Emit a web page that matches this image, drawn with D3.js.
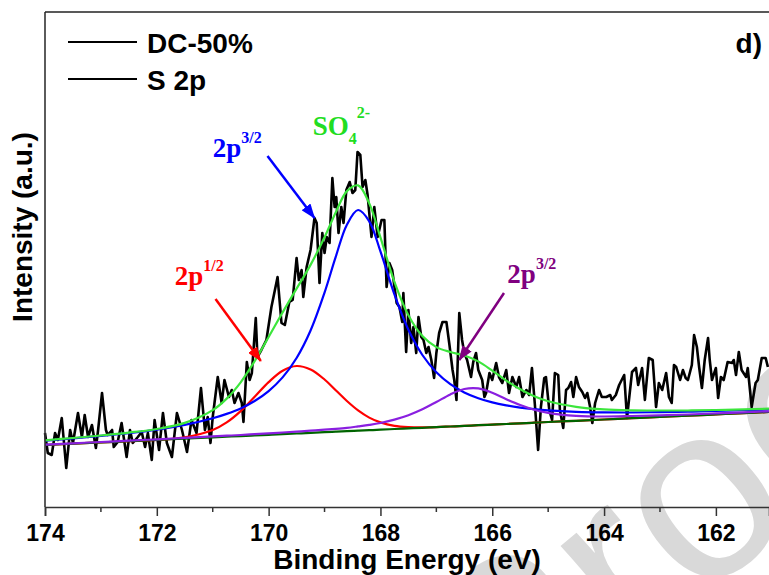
<!DOCTYPE html>
<html>
<head>
<meta charset="utf-8">
<script src="https://cdn.jsdelivr.net/npm/d3@7"></script>
<style>
  body { margin: 0; background: #fff; }
  svg text { font-family: "Liberation Sans", Arial, sans-serif; font-weight: bold; }
</style>
</head>
<body>
<svg width="769" height="575"></svg>
<script>
// S 2p raw spectrum (binding energy in eV, intensity in a.u.)
const rawEnergy = [
  174.00,173.95,173.88,173.82,173.77,173.70,173.62,173.55,173.50,173.41,
  173.34,173.29,173.23,173.16,173.09,173.05,172.98,172.91,172.88,172.80,
  172.77,172.70,172.63,172.54,172.48,172.43,172.34,172.27,172.21,172.16,
  172.09,172.04,171.96,171.89,171.82,171.73,171.64,171.55,171.46,171.38,
  171.29,171.21,171.14,171.09,171.04,171.00,170.91,170.84,170.79,170.71,
  170.66,170.61,170.54,170.48,170.45,170.39,170.34,170.30,170.23,170.20,
  170.13,170.04,169.95,169.84,169.77,169.71,169.63,
  169.57,169.50,169.46,169.41,169.38,169.32,169.25,169.18,169.14,169.09,
  169.04,169.00,168.96,168.91,168.86,168.82,168.79,168.75,168.70,168.66,
  168.61,168.55,168.50,168.45,168.41,168.36,168.32,168.27,168.23,168.16,
  168.11,168.05,167.98,167.93,167.89,167.84,167.79,167.71,167.66,167.61,
  167.59,167.54,167.50,167.45,167.41,167.36,167.32,167.27,167.23,167.18,
  167.14,167.09,167.04,167.00,166.95,166.89,166.82,166.77,166.71,166.68,
  166.64,166.59,166.54,166.50,166.45,166.38,166.34,166.29,166.25,166.18,
  166.14,166.11,166.05,166.00,165.93,165.88,165.82,165.75,165.70,165.64,
  165.57,165.52,165.46,
  165.39,165.34,165.29,165.23,165.18,165.13,165.07,165.04,164.98,164.93,
  164.88,164.82,164.79,164.73,164.68,164.64,164.59,164.55,164.50,164.45,
  164.39,164.34,164.30,164.25,164.21,164.16,164.09,164.04,163.96,163.89,
  163.86,163.79,163.73,163.64,163.59,163.50,163.43,163.39,163.32,163.27,
  163.20,163.13,163.07,163.02,162.96,162.89,162.84,162.79,162.75,162.71,
  162.64,162.59,162.54,162.50,162.43,162.39,162.34,162.30,162.25,162.20,
  162.14,162.11,162.07,162.00,161.96,161.91,161.86,161.79,161.71,161.68,
  161.64,161.59,161.54,161.46,161.43,161.36,161.29,161.25,161.18,161.11,
  161.07
];
const rawCounts = [
  740,540,520,740,670,890,390,770,640,940,
  700,920,700,820,590,770,1140,770,720,770,
  600,650,840,500,770,640,700,750,600,740,
  470,870,570,940,640,500,940,770,550,870,
  740,1190,770,900,640,900,1300,1040,1270,1100,
  1170,1040,1140,1040,850,1450,1270,1340,1890,1500,
  1570,1670,2000,2300,1840,1820,2050,
  2070,2490,2270,2370,2100,2400,2570,2890,2840,2240,
  2740,2540,2700,2640,3290,3000,3100,2740,3000,2840,
  3170,3250,3140,3170,3550,3520,3200,3270,3120,2700,
  3000,2700,2870,2870,2200,2440,2370,2040,2000,1850,
  2140,1550,1970,1640,1800,1540,1900,1700,1670,1540,
  1600,1470,1290,1540,1740,1850,1850,1640,1370,1270,
  1070,1940,1670,1540,1470,1300,1450,1540,1370,1270,
  1100,1140,1340,1270,1440,1300,1240,1370,1140,1300,
  1200,1300,1100,
  1170,1120,1390,970,570,1000,1290,1300,970,870,
  1340,1320,970,790,1170,1190,1250,1100,1300,1200,
  1150,1090,1140,1000,840,1040,1170,1100,1100,1120,
  1070,1120,1220,1320,890,1350,1390,1220,1390,1070,
  1490,1470,1000,1240,1170,1340,1100,1040,1420,1400,
  1270,1370,1290,1270,1420,1720,1600,1400,1190,1470,
  1690,1470,1270,1390,1090,1300,1270,1450,1440,1470,
  1320,1550,1370,1300,1390,1000,1240,1270,1490,1490,
  1400
];

// fitted curves on a common energy grid
const fitEnergy = [174,173.5,173,172.5,172,171.5,171,170.75,170.5,170.25,170,169.75,169.5,169.25,169,168.8,168.6,168.4,168.2,168,
  167.75,167.5,167.25,167,166.75,166.5,166.25,166,165.75,165.5,165.25,165,164.5,164,163.5,163,162.5,162,161.5,161.05];
const background = [620,633,646,658,671,684,697,703,709,716,722,729,735,741,748,753,758,763,768,773,
  780,786,792,799,805,811,818,824,830,837,843,850,862,875,888,901,913,926,939,950];
const peak2p12 = [620,633,646,658,671,697,770,846,959,1102,1249,1363,1410,1375,1275,1168,1060,966,894,846,
  812,799,796,799,805,811,818,824,830,837,843,850,862,875,888,901,913,926,939,950];
const peak2p32 = [664,686,711,739,774,821,887,931,986,1060,1159,1296,1490,1765,2144,2501,2823,2970,2857,2556,
  2126,1772,1520,1348,1229,1146,1088,1046,1016,994,978,966,952,946,945,949,953,960,968,976];
const peak2p32b = [623,637,650,663,677,691,706,713,720,728,736,745,754,763,774,782,792,806,821,840,
  874,918,977,1050,1126,1180,1186,1142,1078,1020,973,942,912,905,910,917,925,936,947,957];
const envelope = [667,690,715,744,780,841,969,1084,1247,1458,1700,1946,2184,2421,2697,2945,3159,3216,3036,2696,
  2252,1917,1709,1599,1550,1515,1456,1364,1264,1177,1108,1058,1002,976,967,965,965,970,976,983];

const majorTicks = [174, 172, 170, 168, 166, 164, 162];
const minorTicks = [173, 171, 169, 167, 165, 163, 161];
const legendLabels = ['DC-50%', 'S 2p'];

const svg = d3.select('svg');
const W = 769, H = 575;
const margin = {top: 12, left: 45, bottom: 68};

const x = d3.scaleLinear().domain([174, 161.05]).range([margin.left, W]);
const y = d3.scaleLinear().domain([0, 4950]).range([H - margin.bottom, margin.top]);

// watermark behind everything
svg.append('text')
  .attr('transform', 'translate(505,765) rotate(-40)')
  .attr('font-size', 250)
  .style('font-weight', 'normal')
  .attr('fill', '#d9d9d9')
  .text('Proof');

const line = (xs, ys, curve) => d3.line()
  .x(i => x(xs[i])).y(i => y(ys[i]))
  .curve(curve)(d3.range(xs.length));

svg.append('path')
  .attr('d', line(rawEnergy, rawCounts, d3.curveLinear))
  .attr('fill', 'none').attr('stroke', '#000').attr('stroke-width', 2.6)
  .attr('stroke-linejoin', 'round');

const fits = [
  {ys: peak2p12, color: '#ff0000'},
  {ys: background, color: '#006400'},
  {ys: peak2p32, color: '#0000ff'},
  {ys: peak2p32b, color: '#8a1fe0'},
  {ys: envelope, color: '#3ce63c'}
];
fits.forEach(f => {
  svg.append('path')
    .attr('d', line(fitEnergy, f.ys, d3.curveCatmullRom.alpha(0.5)))
    .attr('fill', 'none').attr('stroke', f.color).attr('stroke-width', 2.2);
});

// frame
const yb = H - margin.bottom;
svg.append('line').attr('x1', margin.left).attr('x2', margin.left).attr('y1', margin.top).attr('y2', yb)
  .attr('stroke', '#333').attr('stroke-width', 1.6);
svg.append('line').attr('x1', margin.left).attr('x2', W).attr('y1', margin.top).attr('y2', margin.top)
  .attr('stroke', '#222').attr('stroke-width', 1.6);

// x axis
const xAxis = svg.append('g').attr('transform', `translate(0,${yb})`)
  .call(d3.axisBottom(x).tickValues(majorTicks).tickSize(9).tickFormat(d3.format('d')));
xAxis.select('.domain').attr('stroke', '#333').attr('stroke-width', 1.6);
xAxis.selectAll('.tick line').attr('stroke', '#333').attr('stroke-width', 1.5);
xAxis.selectAll('.tick text').attr('y', 34).attr('dy', null)
  .attr('font-size', 23).attr('fill', '#000')
  .style('font-family', '"Liberation Sans", Arial, sans-serif').style('font-weight', 'bold');
svg.append('g').attr('transform', `translate(0,${yb})`)
  .selectAll('line').data(minorTicks).join('line')
  .attr('x1', d => x(d)).attr('x2', d => x(d)).attr('y1', 0).attr('y2', 5)
  .attr('stroke', '#333').attr('stroke-width', 1.5);

svg.append('text').attr('x', (margin.left + W) / 2).attr('y', 569)
  .attr('text-anchor', 'middle').attr('font-size', 28).text('Binding Energy (eV)');
svg.append('text').attr('transform', 'translate(32,227) rotate(-90)')
  .attr('text-anchor', 'middle').attr('font-size', 28).text('Intensity (a.u.)');

// legend
const lg = svg.append('g');
legendLabels.forEach((lab, i) => {
  const ly = 42 + i * 37;
  lg.append('line').attr('x1', 68).attr('x2', 137).attr('y1', ly).attr('y2', ly)
    .attr('stroke', '#000').attr('stroke-width', 2.2);
  lg.append('text').attr('x', 147).attr('y', ly + 11).attr('font-size', 28).text(lab);
});
svg.append('text').attr('x', 762).attr('y', 53).attr('text-anchor', 'end')
  .attr('font-size', 28).text('d)');

// annotations (positions in data units)
const notes = [
  {label: '2p', sup: '3/2', color: '#0000ff', at: [171.0, 3500], from: [170.02, 3510], to: [169.18, 2890]},
  {label: '2p', sup: '1/2', color: '#ff0000', at: [171.68, 2220], from: [170.95, 2080], to: [170.14, 1460]},
  {label: '2p', sup: '3/2', color: '#800080', at: [165.73, 2240], from: [165.79, 2140], to: [166.59, 1470]}
];
const defs = svg.append('defs');
notes.forEach((n, i) => {
  defs.append('marker').attr('id', 'ah' + i)
    .attr('markerUnits', 'userSpaceOnUse').attr('markerWidth', 15).attr('markerHeight', 11)
    .attr('refX', 14).attr('refY', 5.5).attr('orient', 'auto')
    .append('path').attr('d', 'M0,0 L15,5.5 L0,11 Z').attr('fill', n.color);
  svg.append('line')
    .attr('x1', x(n.from[0])).attr('y1', y(n.from[1]))
    .attr('x2', x(n.to[0])).attr('y2', y(n.to[1]))
    .attr('stroke', n.color).attr('stroke-width', 2.5)
    .attr('marker-end', `url(#ah${i})`);
  const t = svg.append('text').attr('x', x(n.at[0])).attr('y', y(n.at[1]))
    .attr('fill', n.color)
    .style('font-family', '"Liberation Serif", "Times New Roman", serif');
  t.append('tspan').attr('font-size', 27).text(n.label);
  t.append('tspan').attr('font-size', 16).attr('dy', -14).text(n.sup);
});

const so = svg.append('text').attr('x', x(169.21)).attr('y', y(3720)).attr('fill', '#22dd22')
  .style('font-family', '"Liberation Serif", "Times New Roman", serif');
so.append('tspan').attr('font-size', 27).text('SO');
so.append('tspan').attr('font-size', 16).attr('dy', 9).text('4');
so.append('tspan').attr('font-size', 16).attr('dy', -26).text('2-');
</script>
</body>
</html>
